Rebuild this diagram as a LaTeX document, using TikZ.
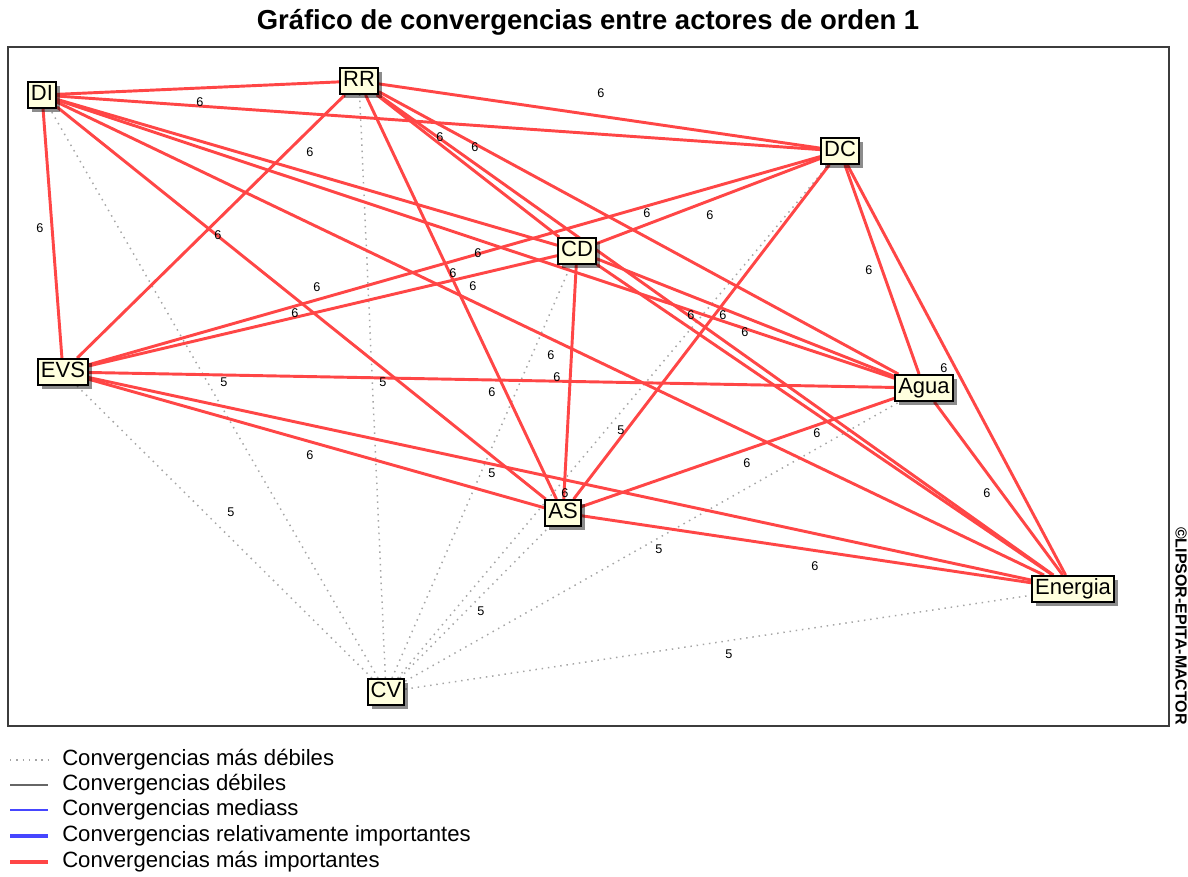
\documentclass[tikz,border=0pt]{standalone}
\usepackage{fontspec}
\setmainfont{Liberation Sans}
\usepackage{xcolor}
\usepackage{tikz}
\usetikzlibrary{shadows,backgrounds}

\definecolor{rojo}{RGB}{255,70,70}
\definecolor{crema}{RGB}{255,255,222}
\definecolor{punteado}{RGB}{165,165,165}
\definecolor{azul}{RGB}{70,70,255}
\definecolor{marco}{RGB}{60,60,60}

\begin{document}
\begin{tikzpicture}[x=0.75pt,y=-0.75pt,
  actor/.style={rectangle, draw=black, line width=1.4pt, fill=crema, inner xsep=2.3pt, inner ysep=0pt, minimum height=19.5pt, text height=11.5pt, text depth=3pt, font=\fontsize{16.5}{19}\selectfont, drop shadow={shadow xshift=3pt, shadow yshift=-3pt, fill=black, opacity=.45}},
  fuerte/.style={draw=rojo, line width=2.2pt},
  masdebil/.style={draw=punteado, line width=1.1pt, dash pattern=on 1.1pt off 3.6pt},
  peso/.style={font=\fontsize{9.5}{11}\selectfont, inner sep=0pt},
  leyenda/.style={anchor=west, inner sep=0pt, font=\fontsize{16.6}{19}\selectfont}]

\useasboundingbox (0,0) rectangle (1188,877);

\node (titulo) at (588,22) [font=\bfseries\fontsize{20.6}{24}\selectfont] {Gráfico de convergencias entre actores de orden 1};
\draw[marco, line width=1.5pt] (8,47) rectangle (1169,726);
\node (copy) at (1181,626) [rotate=-90, font=\bfseries\fontsize{12}{14}\selectfont] {©LIPSOR-EPITA-MACTOR};

% actores
\node (DI) at (42,95) [actor] {DI};
\node (RR) at (359,81) [actor] {RR};
\node (DC) at (840,151) [actor] {DC};
\node (CD) at (577,251) [actor] {CD};
\node (EVS) at (63,372) [actor] {EVS};
\node (Agua) at (924,388) [actor] {Agua};
\node (AS) at (563,513) [actor] {AS};
\node (Energia) at (1073,589) [actor] {Energia};
\node (CV) at (386,692) [actor] {CV};

\begin{scope}[on background layer]
\fill[white] (0,0) rectangle (1188,877);
% convergencias mas debiles
\draw[masdebil] (CV) -- (DI);
\draw[masdebil] (CV) -- (RR);
\draw[masdebil] (CV) -- (DC);
\draw[masdebil] (CV) -- (CD);
\draw[masdebil] (CV) -- (EVS);
\draw[masdebil] (CV) -- (Agua);
\draw[masdebil] (CV) -- (AS);
\draw[masdebil] (CV) -- (Energia);

% convergencias mas importantes
\draw[fuerte] (DI) -- (RR);
\draw[fuerte] (DI) -- (DC);
\draw[fuerte] (DI) -- (CD);
\draw[fuerte] (DI) -- (EVS);
\draw[fuerte] (DI) -- (Agua);
\draw[fuerte] (DI) -- (AS);
\draw[fuerte] (DI) -- (Energia);
\draw[fuerte] (RR) -- (DC);
\draw[fuerte] (RR) -- (CD);
\draw[fuerte] (RR) -- (EVS);
\draw[fuerte] (RR) -- (Agua);
\draw[fuerte] (RR) -- (AS);
\draw[fuerte] (RR) -- (Energia);
\draw[fuerte] (DC) -- (CD);
\draw[fuerte] (DC) -- (EVS);
\draw[fuerte] (DC) -- (Agua);
\draw[fuerte] (DC) -- (AS);
\draw[fuerte] (DC) -- (Energia);
\draw[fuerte] (CD) -- (EVS);
\draw[fuerte] (CD) -- (Agua);
\draw[fuerte] (CD) -- (AS);
\draw[fuerte] (CD) -- (Energia);
\draw[fuerte] (EVS) -- (Agua);
\draw[fuerte] (EVS) -- (AS);
\draw[fuerte] (EVS) -- (Energia);
\draw[fuerte] (Agua) -- (AS);
\draw[fuerte] (Agua) -- (Energia);
\draw[fuerte] (AS) -- (Energia);

% pesos
\node (p1) at (601,93) [peso] {6};
\node (p2) at (200,102) [peso] {6};
\node (p3) at (310,152) [peso] {6};
\node (p4) at (440,137) [peso] {6};
\node (p5) at (475,147) [peso] {6};
\node (p6) at (40,228) [peso] {6};
\node (p7) at (218,235) [peso] {6};
\node (p8) at (647,213) [peso] {6};
\node (p9) at (710,215) [peso] {6};
\node (p10) at (869,270) [peso] {6};
\node (p11) at (478,253) [peso] {6};
\node (p12) at (453,273) [peso] {6};
\node (p13) at (473,286) [peso] {6};
\node (p14) at (317,287) [peso] {6};
\node (p15) at (295,313) [peso] {6};
\node (p16) at (691,315) [peso] {6};
\node (p17) at (723,315) [peso] {6};
\node (p18) at (745,332) [peso] {6};
\node (p19) at (551,355) [peso] {6};
\node (p20) at (557,377) [peso] {6};
\node (p21) at (492,392) [peso] {6};
\node (p22) at (817,433) [peso] {6};
\node (p23) at (747,463) [peso] {6};
\node (p24) at (310,455) [peso] {6};
\node (p25) at (565,493) [peso] {6};
\node (p26) at (987,493) [peso] {6};
\node (p27) at (815,566) [peso] {6};
\node (p28) at (944,368) [peso] {6};
\node (q1) at (224,382) [peso] {5};
\node (q2) at (383,382) [peso] {5};
\node (q3) at (621,430) [peso] {5};
\node (q4) at (492,473) [peso] {5};
\node (q5) at (231,512) [peso] {5};
\node (q6) at (659,549) [peso] {5};
\node (q7) at (481,611) [peso] {5};
\node (q8) at (729,654) [peso] {5};
\end{scope}

% leyenda
\draw[masdebil] (10,760) -- (48,760);
\draw[draw=gray!80!black, line width=1.1pt] (10,785) -- (48,785);
\draw[draw=azul, line width=1.1pt] (10,810) -- (48,810);
\draw[draw=azul, line width=2.6pt] (10,836) -- (48,836);
\draw[draw=rojo, line width=3pt] (10,862) -- (48,862);
\node (ley1) at (62,760) [leyenda] {Convergencias más débiles};
\node (ley2) at (62,785) [leyenda] {Convergencias débiles};
\node (ley3) at (62,810) [leyenda] {Convergencias mediass};
\node (ley4) at (62,836) [leyenda] {Convergencias relativamente importantes};
\node (ley5) at (62,862) [leyenda] {Convergencias más importantes};
\end{tikzpicture}
\end{document}
